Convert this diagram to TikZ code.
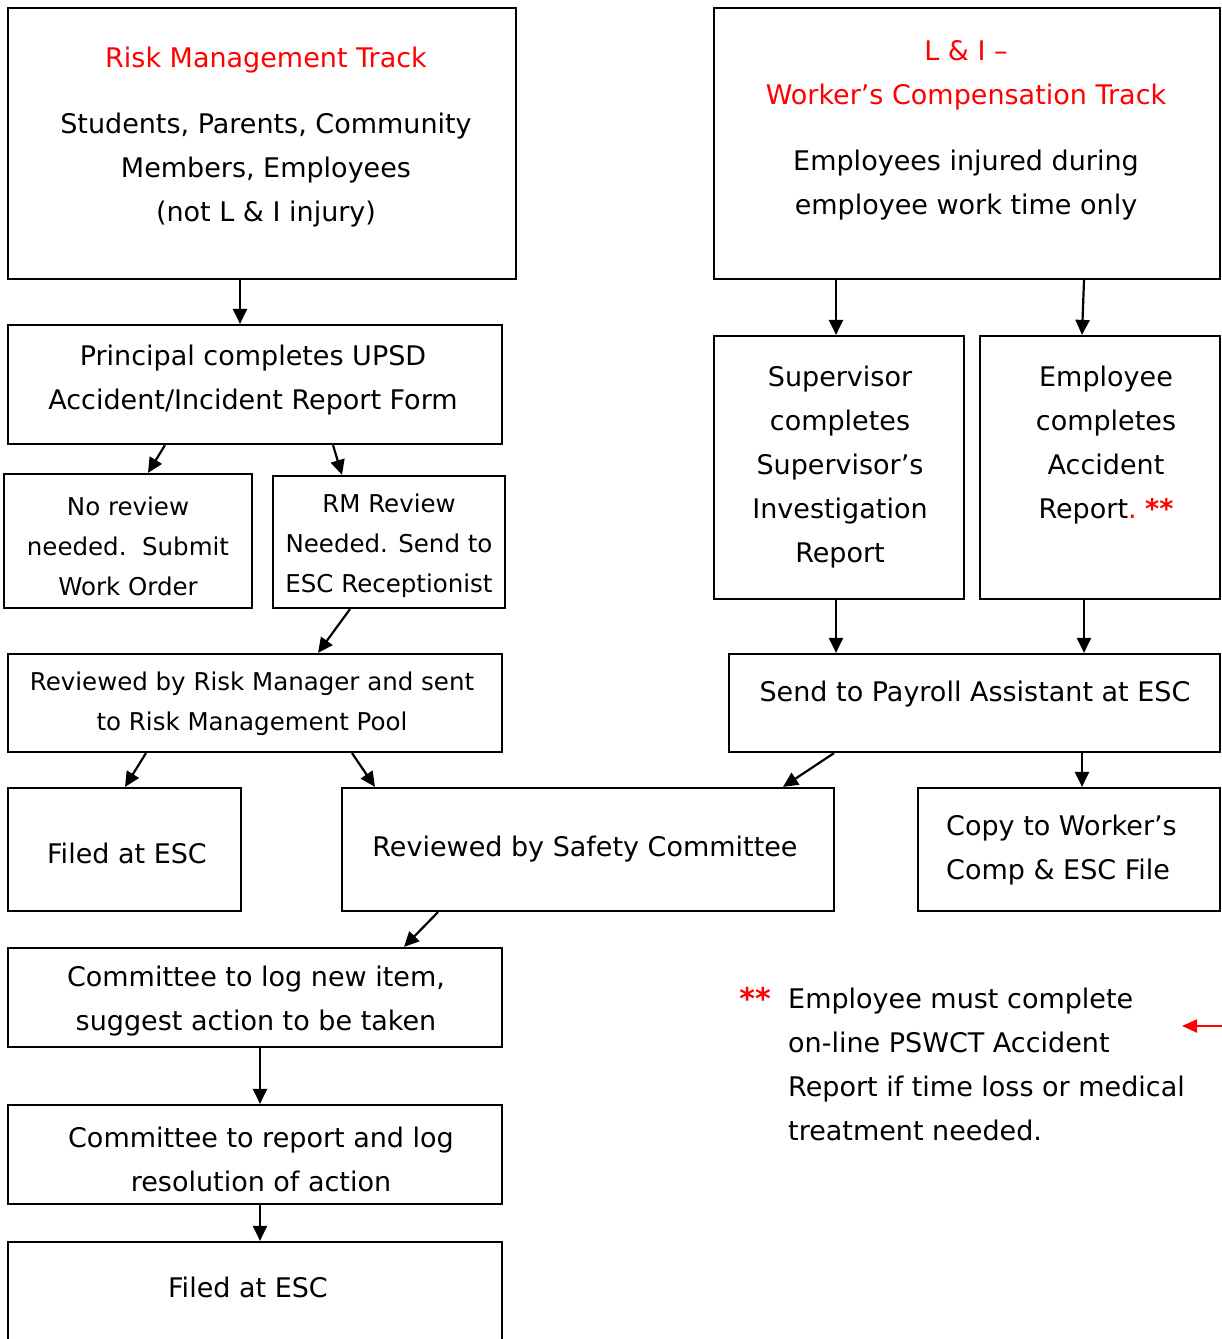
\documentclass[tikz,border=0pt]{standalone}
\usepackage{fontspec}
\setmainfont{DejaVu Sans}
\usetikzlibrary{arrows.meta,calc,fit}
\definecolor{rd}{RGB}{255,0,0}
\begin{document}
\begin{tikzpicture}[x=1pt,y=-1pt,
  bx/.style={draw,line width=2.2pt,inner sep=0pt},
  arr/.style={line width=2.2pt,-{Triangle[length=15pt,width=14pt]}},
  redarr/.style={draw=rd,line width=2.2pt,-{Triangle[length=15pt,width=13pt]},rd},
  tx/.style={align=center,font=\fontsize{27}{44}\selectfont,inner sep=0pt},
  ts/.style={align=center,font=\fontsize{24.5}{40}\selectfont,inner sep=0pt},
  tl/.style={align=left,font=\fontsize{27}{44}\selectfont,inner sep=0pt,anchor=west}]
\useasboundingbox (0,0) rectangle (1222,1339);

% boxes
\node[bx,fit={(8,8) (516,279)}] (rm) {};
\node[bx,fit={(714,8) (1220,279)}] (li) {};
\node[bx,fit={(8,325) (502,444)}] (prin) {};
\node[bx,fit={(4,474) (252,608)}] (norev) {};
\node[bx,fit={(273,476) (505,608)}] (rmrev) {};
\node[bx,fit={(8,654) (502,752)}] (revrm) {};
\node[bx,fit={(8,788) (241,911)}] (filed1) {};
\node[bx,fit={(342,788) (834,911)}] (safety) {};
\node[bx,fit={(714,336) (964,599)}] (sup) {};
\node[bx,fit={(980,336) (1220,599)}] (emp) {};
\node[bx,fit={(729,654) (1220,752)}] (payroll) {};
\node[bx,fit={(918,788) (1220,911)}] (copy) {};
\node[bx,fit={(8,948) (502,1047)}] (clog) {};
\node[bx,fit={(8,1105) (502,1204)}] (crep) {};
\node[bx,fit={(8,1242) (502,1350)}] (filed2) {};

% texts
\node[tx,text=rd] (rmtitle) at (266,60) {Risk Management Track};
\node[tx] (rmbody) at (266,170) {Students, Parents, Community\\Members, Employees\\(not L \& I injury)};
\node[tx,text=rd] (lititle) at (966,75.5) {L \& I –\\Worker’s Compensation Track};
\node[tx] (libody) at (966,185.5) {Employees injured during\\employee work time only};
\node[tx] (print) at (253,380) {Principal completes UPSD\\Accident/Incident Report Form};
\node[ts] (norevt) at (128,546) {No review\\needed.\ \ Submit\\Work Order};
\node[ts] (rmrevt) at (389,546) {RM Review\\Needed. Send to\\ESC Receptionist};
\node[ts] (revrmt) at (252,704) {Reviewed by Risk Manager and sent\\to Risk Management Pool};
\node[tx] (filed1t) at (127,853) {Filed at ESC};
\node[tx] (safetyt) at (585,849) {Reviewed by Safety Committee};
\node[tx] (supt) at (840,467) {Supervisor\\completes\\Supervisor’s\\Investigation\\Report};
\node[tx] (empt) at (1106,445) {Employee\\completes\\Accident\\Report{\color{rd}.\ \textbf{**}}};
\node[tx] (payrollt) at (975,694) {Send to Payroll Assistant at ESC};
\node[tl] (copyt) at (946,850) {Copy to Worker’s\\Comp \& ESC File};
\node[tx] (clogt) at (256,1001.5) {Committee to log new item,\\suggest action to be taken};
\node[tx] (crept) at (261,1159.5) {Committee to report and log\\resolution of action};
\node[tx] (filed2t) at (248,1287) {Filed at ESC};
\node[tx,text=rd,font=\fontsize{30}{44}\selectfont\bfseries] (stars) at (755,998) {**};
\node[tl] (note) at (788,1064.5) {Employee must complete\\on-line PSWCT Accident\\Report if time loss or medical\\treatment needed.};
\coordinate (redstart) at (1222,1026);
\coordinate (redend) at (1182,1026);

% connectors
\draw[arr] (rm.south -| 240,0) -- (prin.north -| 240,0);
\draw[arr] (prin.south -| 165,0) -- (norev.north -| 148,0);
\draw[arr] (prin.south -| 333,0) -- (rmrev.north -| 342,0);
\draw[arr] (rmrev.south -| 350,0) -- (revrm.north -| 318,0);
\draw[arr] (revrm.south -| 146,0) -- (filed1.north -| 125,0);
\draw[arr] (revrm.south -| 352,0) -- (safety.north -| 375,0);
\draw[arr] (li.south -| 836,0) -- (sup.north -| 836,0);
\draw[arr] (li.south -| 1084,0) -- (emp.north -| 1082,0);
\draw[arr] (sup.south -| 836,0) -- (payroll.north -| 836,0);
\draw[arr] (emp.south -| 1084,0) -- (payroll.north -| 1084,0);
\draw[arr] (payroll.south -| 834,0) -- (safety.north -| 783,0);
\draw[arr] (payroll.south -| 1082,0) -- (copy.north -| 1082,0);
\draw[arr] (safety.south -| 438,0) -- (clog.north -| 404,0);
\draw[arr] (clog.south -| 260,0) -- (crep.north -| 260,0);
\draw[arr] (crep.south -| 260,0) -- (filed2.north -| 260,0);
\draw[redarr] (redstart) -- (redend);
\end{tikzpicture}
\end{document}
